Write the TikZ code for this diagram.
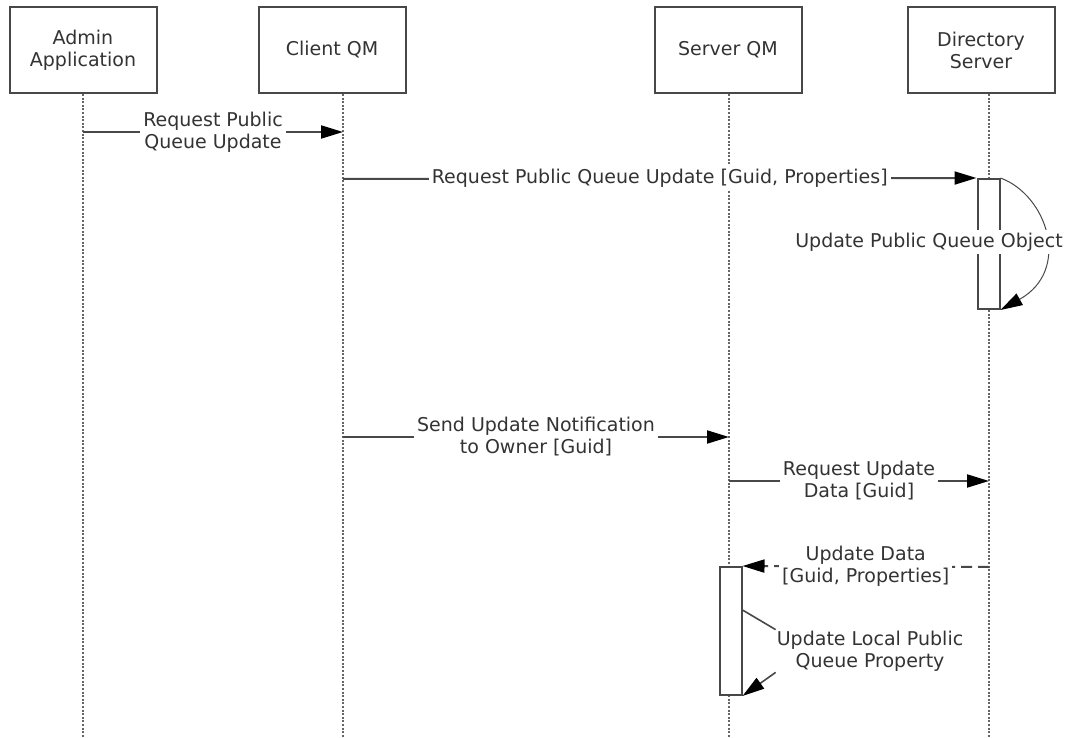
\documentclass[tikz,border=0pt]{standalone}
\usepackage{fontspec}
\setmainfont{DejaVu Sans}
\usetikzlibrary{arrows.meta}
\usetikzlibrary{calc,positioning}

\definecolor{linegray}{HTML}{484848}
\definecolor{textgray}{HTML}{333333}

\tikzset{
    actor/.style={draw=linegray, line width=2pt, fill=white, minimum width=147pt, minimum height=86pt,
        align=center, text=textgray, font=\fontsize{19}{22}\selectfont},
    life/.style={draw=black!60, line width=2.2pt, dash pattern=on 2pt off 1.6pt},
    msg/.style={->, draw=linegray, line width=2pt},
    reply/.style={msg, dash pattern=on 11pt off 6pt},
    lbl/.style={fill=white, align=center, text=textgray, inner sep=3pt, font=\fontsize{19}{22}\selectfont},
    actbar/.style={draw=linegray, line width=2pt, fill=white, minimum width=22pt, inner sep=0pt}
}

\begin{document}
\begin{tikzpicture}[x=1pt, y=-1pt, >={Triangle[length=22pt,width=13pt,color=black]}]

    \useasboundingbox (0,0) rectangle (1071,738);

    % participants
    \node[actor] (admin)  at (83,50)  {Admin\\Application};
    \node[actor] (client) at (332,50) {Client QM};
    \node[actor] (server) at (728,50) {Server QM};
    \node[actor] (dir)    at (981,50) {Directory\\Server};

    % lifelines
    \coordinate (admin-end)  at (83,738);
    \coordinate (client-end) at (343,738);
    \coordinate (server-end) at (729,738);
    \coordinate (dir-end)    at (989,738);
    \draw[life] (83,94) -- (admin-end);
    \draw[life] (343,94) -- (client-end);
    \draw[life] (729,94) -- (server-end);
    \draw[life] (989,94) -- (dir-end);

    % activations
    \node[actbar, minimum height=130pt] (dirbar) at (988.5,244) {};
    \node[actbar, minimum height=128pt] (srvbar) at (730.5,631) {};

    % message end points
    \coordinate (m1a) at (83,132);
    \coordinate (m1b) at (343,132);
    \coordinate (m2a) at (343,179);
    \coordinate (m3a) at (343,437);
    \coordinate (m3b) at (729,437);
    \coordinate (m4a) at (729,481);
    \coordinate (m4b) at (989,481);
    \coordinate (m5a) at (989,567);

    % messages
    \draw[msg] (m1a) -- (m1b) node[lbl, midway] {Request Public\\Queue Update};
    \draw[msg] (m2a) -- (dirbar.north west) node[lbl, midway] {Request Public Queue Update [Guid, Properties]};
    \draw[msg, line width=1pt] (dirbar.north east) .. controls (1047,195) and (1072,270) .. (dirbar.south east);
    \node[lbl] (selfdir) at (929,242) {Update Public Queue Object};
    \draw[msg] (m3a) -- (m3b) node[lbl, midway] {Send Update Notification\\to Owner [Guid]};
    \draw[msg] (m4a) -- (m4b) node[lbl, midway] {Request Update\\Data [Guid]};
    \draw[reply] (m5a) -- (srvbar.north east) node[lbl, midway] {Update Data\\{[Guid, Properties]}};

    % local update
    \node[lbl, inner sep=1pt] (selfsrv) at (870,651) {Update Local Public\\Queue Property};
    \draw[draw=linegray, line width=1.6pt] ($(srvbar.north east)+(0,44)$) -- (selfsrv.north west);
    \draw[msg, line width=1.6pt] (selfsrv.south west) -- (srvbar.south east);

\end{tikzpicture}
\end{document}
